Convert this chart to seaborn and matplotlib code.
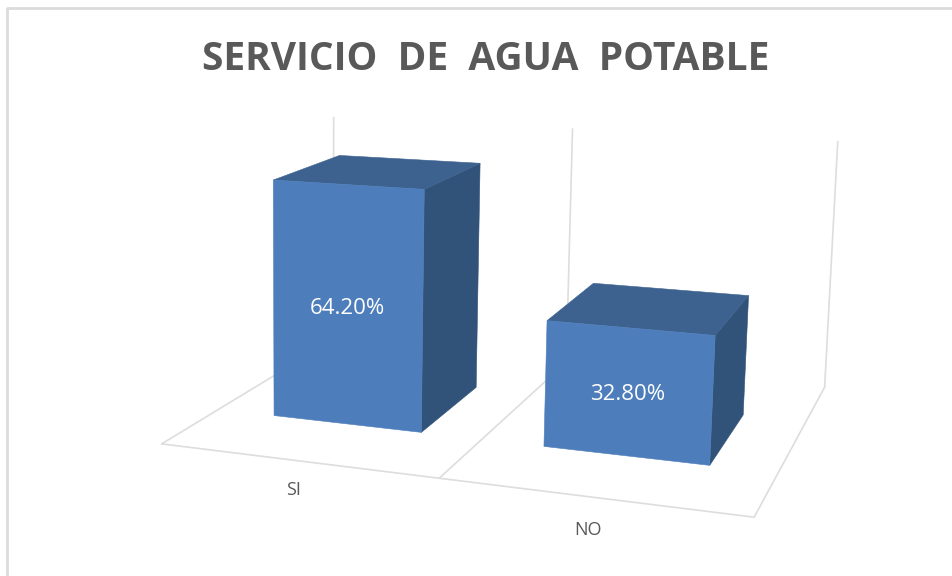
"""Perspective bar chart of drinking water service coverage."""
import matplotlib.pyplot as plt
import numpy as np
import seaborn as sns
from matplotlib.patches import Polygon
from matplotlib.transforms import Affine2D, Transform

categories = ["SI", "NO"]
values = [0.642, 0.328]
value_labels = ["64.20%", "32.80%"]
title = "SERVICIO  DE  AGUA  POTABLE"

WIDTH, HEIGHT = 953, 576
Y_MAX = 0.7
BAR_WIDTH = 0.56
Z_FRONT, Z_BACK = 0.29, 0.69

FRONT_COLOR = "#4d7ebb"
TOP_COLOR = "#3d628f"
SIDE_COLOR = "#325379"
GRID_COLOR = "#dddddd"
TEXT_COLOR = "#595959"

# where the corners of the chart box land on the picture
CALIBRATION = [
    ((-0.5, 0, 0), (162, 442)),
    ((0.5, 0, 0), (439, 478)),
    ((1.5, 0, 0), (754, 519.5)),
    ((-0.5, 0, 1), (332, 343)),
    ((0.5, 0, 1), (568, 360)),
    ((1.5, 0, 1), (824, 386)),
    ((-0.5, Y_MAX, 1), (334, 117)),
    ((0.5, Y_MAX, 1), (572, 129)),
    ((1.5, Y_MAX, 1), (838, 142)),
]


def fit_camera(pairs):
    rows = []
    for (x, y, z), (u, v) in pairs:
        rows.append([x, y, z, 1, 0, 0, 0, 0, -u * x, -u * y, -u * z, -u])
        rows.append([0, 0, 0, 0, x, y, z, 1, -v * x, -v * y, -v * z, -v])
    return np.linalg.svd(np.array(rows, dtype=float))[2][-1].reshape(3, 4)


CAMERA = fit_camera(CALIBRATION)


def project(x, y, z):
    u, v, w = CAMERA @ np.array([x, y, z, 1.0])
    return u / w, v / w


class PlaneTransform(Transform):
    """Send data coordinates of a bar at a fixed depth to figure fractions."""

    input_dims = output_dims = 2

    def __init__(self, plane_depth):
        super().__init__()
        self.plane_depth = plane_depth

    def transform_non_affine(self, values):
        points = [project(x, y, self.plane_depth) for x, y in values]
        return np.array([(u / WIDTH, 1 - v / HEIGHT) for u, v in points])


sns.set_theme(style="white")
plt.rcParams["font.family"] = ["Open Sans", "DejaVu Sans"]

fig = plt.figure(figsize=(WIDTH / 100, HEIGHT / 100), dpi=100, facecolor="white")
ax = fig.add_axes([0, 0, 1, 1])
sns.barplot(x=categories, y=values, color=FRONT_COLOR, saturation=1, width=BAR_WIDTH, ax=ax)
ax.set_xlim(-0.5, 1.5)
ax.set_ylim(0, Y_MAX)
ax.axis("off")

pixels = Affine2D().scale(1 / WIDTH, -1 / HEIGHT).translate(0, 1) + fig.transFigure


def add_line(start, end):
    (u0, v0), (u1, v1) = project(*start), project(*end)
    ax.plot([u0, u1], [v0, v1], color=GRID_COLOR, lw=1.2, transform=pixels, clip_on=False, zorder=0)


add_line((-0.5, 0, 0), (1.5, 0, 0))
for edge in [-0.5, 0.5, 1.5]:
    add_line((edge, 0, 0), (edge, 0, 1))
    add_line((edge, 0, 1), (edge, Y_MAX, 1))

# chart frame
ax.plot([7, 7, 953], [576, 8, 8], color="#dcdcdc", lw=2, transform=pixels, clip_on=False, zorder=0)

for patch, label in zip(list(ax.patches), value_labels):
    x0, x1 = patch.get_x(), patch.get_x() + patch.get_width()
    top = patch.get_height()
    patch.set_transform(PlaneTransform(Z_FRONT) + fig.transFigure)
    patch.set_clip_on(False)
    patch.set_edgecolor(FRONT_COLOR)
    patch.set_linewidth(0.4)
    patch.set_zorder(2)
    side = [(x1, 0, Z_FRONT), (x1, 0, Z_BACK), (x1, top, Z_BACK), (x1, top, Z_FRONT)]
    roof = [(x0, top, Z_FRONT), (x0, top, Z_BACK), (x1, top, Z_BACK), (x1, top, Z_FRONT)]
    for face, color in [(side, SIDE_COLOR), (roof, TOP_COLOR)]:
        ax.add_patch(Polygon([project(*c) for c in face], closed=True, facecolor=color,
                             edgecolor=color, lw=0.4, transform=pixels, clip_on=False, zorder=1))
    u, v = project((x0 + x1) / 2, top / 2, Z_FRONT)
    ax.text(u, v + 2.5, label, color="white", fontsize=16, ha="center", va="center", transform=pixels,
            zorder=3)

for category, u, v in zip(categories, [294, 588], [495, 535]):
    ax.text(u, v, category, color=TEXT_COLOR, fontsize=13, ha="center", va="baseline", transform=pixels)

ax.text(486, 69.5, title, color=TEXT_COLOR, fontsize=28, fontweight="bold", ha="center", va="baseline",
        transform=pixels)

fig.savefig("out.png", dpi=100)
